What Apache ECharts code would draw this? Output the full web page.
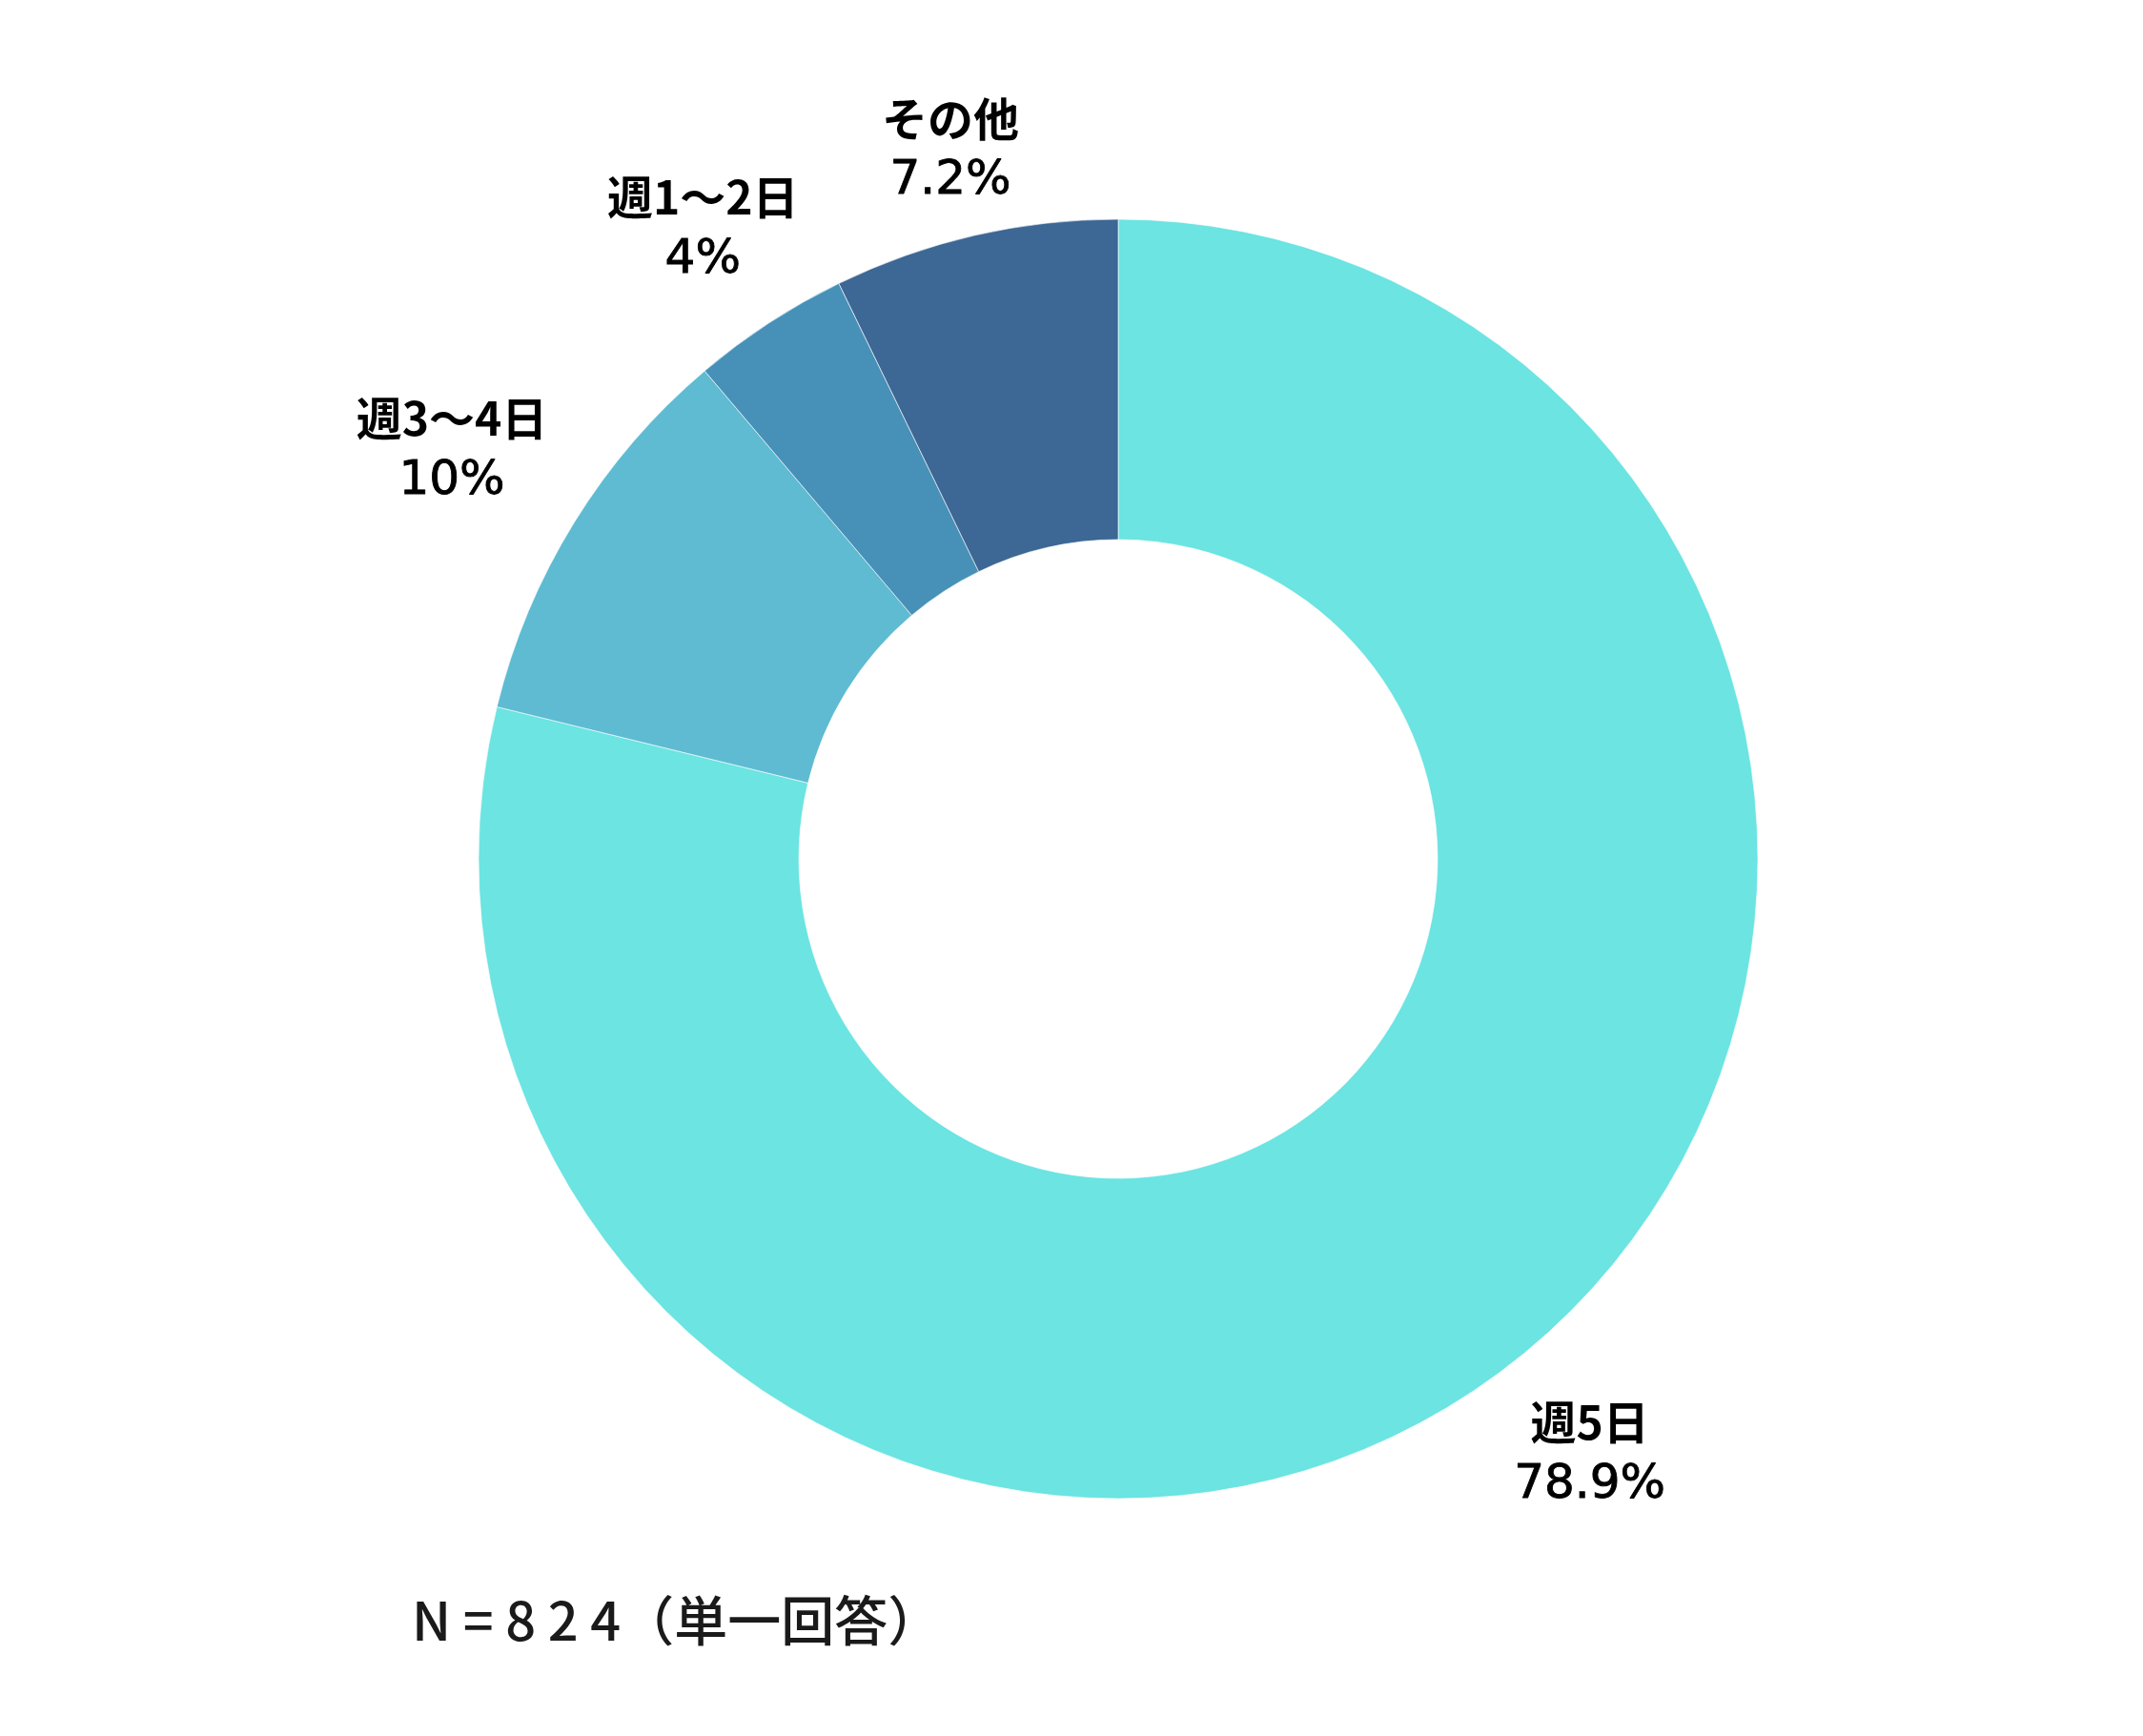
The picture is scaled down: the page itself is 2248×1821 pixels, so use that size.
<!DOCTYPE html>
<html>
<head>
<meta charset="utf-8">
<script src="https://cdn.jsdelivr.net/npm/echarts@6/dist/echarts.min.js"></script>
<style>
html,body{margin:0;padding:0;background:#fff;}
#chart{width:2248px;height:1821px;}
</style>
</head>
<body>
<div id="chart"></div>
<script>
const categories = ['週5日', '週3～4日', '週1～2日', 'その他'];
const values = [78.9, 10, 4, 7.2];
const colors = ['#6be4e2', '#5ebbd2', '#4791b8', '#3d6794'];
const labelLens = [122, 145, 118, 92];
const noteText = 'N = 8 2 4（単一回答）';

const chart = echarts.init(document.getElementById('chart'));
const data = categories.map((c, i) => ({
  name: c,
  value: values[i],
  itemStyle: { color: colors[i] },
  labelLine: { show: false, length: labelLens[i], length2: 0 }
}));

chart.setOption({
  backgroundColor: '#ffffff',
  animation: false,
  title: {
    text: noteText,
    left: 427,
    top: 1667,
    textStyle: {
      fontFamily: 'Noto Sans CJK JP',
      fontSize: 56,
      fontWeight: 500,
      color: '#1a1a1a'
    }
  },
  series: [{
    type: 'pie',
    center: [1173, 901],
    radius: [335, 671],
    startAngle: 90,
    clockwise: true,
    avoidLabelOverlap: false,
    itemStyle: { borderColor: 'rgba(255,255,255,0.6)', borderWidth: 1 },
    label: {
      show: true,
      position: 'outside',
      formatter: p => '{n|' + p.name + '}\n{v|' + p.value + '%}',
      rich: {
        n: { fontFamily: 'Noto Sans CJK JP', fontSize: 48, fontWeight: 'bold', color: '#000', lineHeight: 66, align: 'center' },
        v: { fontFamily: 'DejaVu Sans', fontSize: 50, fontWeight: 'normal', color: '#000', lineHeight: 66, align: 'center',
             textBorderColor: '#000', textBorderWidth: 0.9 }
      }
    },
    labelLayout: function () {
      return { align: 'center', verticalAlign: 'middle' };
    },
    emphasis: { disabled: true },
    data: data
  }]
});
</script>
</body>
</html>
